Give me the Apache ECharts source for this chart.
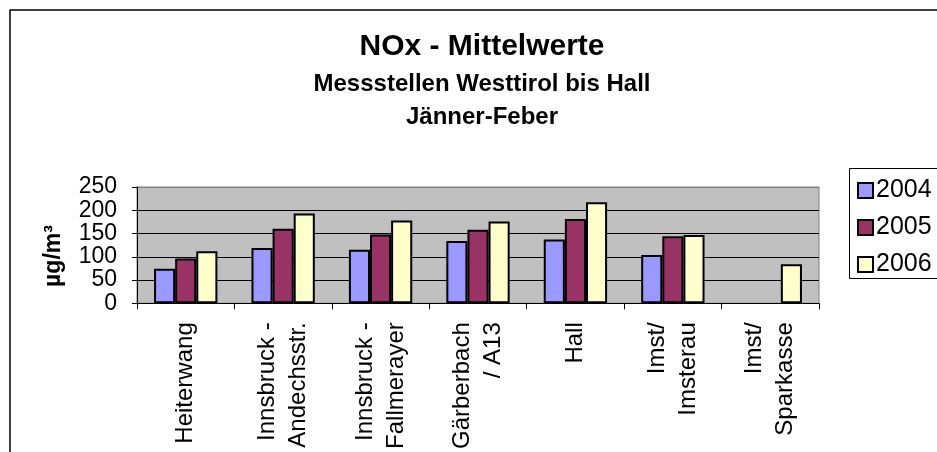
<!DOCTYPE html>
<html>
<head>
    <meta charset="UTF-8">
    <title>NOx - Mittelwerte</title>
    <script src="https://cdn.jsdelivr.net/npm/echarts@6/dist/echarts.min.js"></script>
    <style>
        html, body { margin: 0; padding: 0; background: #fff; }
        #main { width: 937px; height: 452px; }
    </style>
</head>
<body>
<div id="main"></div>
<script type="text/javascript">
    // Messstellen
    var stations = ['Heiterwang', 'Innsbruck -\nAndechsstr.', 'Innsbruck -\nFallmerayer', 'Gärberbach\n/ A13', 'Hall', 'Imst/\nImsterau', 'Imst/\nSparkasse'];
    var years = ['2004', '2005', '2006'];
    var nox2004 = [74, 119, 115, 134, 137, 104, null];
    var nox2005 = [96, 160, 148, 158, 181, 144, null];
    var nox2006 = [112, 193, 178, 176, 217, 147, 84];
    var yTicks = [0, 50, 100, 150, 200, 250];

    var colors = ['#9999FF', '#993366', '#FFFFCC'];
    var font = '"Liberation Sans", Arial, Helvetica, sans-serif';

    var myChart = echarts.init(document.getElementById('main'));

    function bar(name, data) {
        return {
            name: name,
            type: 'bar',
            data: data,
            barGap: '0%',
            barCategoryGap: '35%',
            itemStyle: { borderColor: '#000', borderWidth: 2 }
        };
    }

    var option = {
        animation: false,
        color: colors,
        textStyle: { fontFamily: font },
        title: [
            {
                text: 'NOx - Mittelwerte',
                left: 477, top: 27, textAlign: 'center',
                textStyle: { fontSize: 30, fontWeight: 'bold', color: '#000', fontFamily: font }
            },
            {
                text: 'Messstellen Westtirol bis Hall\nJänner-Feber',
                left: 477, top: 63, textAlign: 'center',
                textStyle: { fontSize: 24, fontWeight: 'bold', color: '#000', lineHeight: 33, fontFamily: font }
            }
        ],
        graphic: [
            // Rahmen um das Diagramm
            { type: 'rect', shape: { x: 10, y: 10, width: 1000, height: 1000 },
              style: { fill: 'none', stroke: '#000', lineWidth: 1.5 }, z: 0 },
            // Legendenrahmen
            { type: 'rect', shape: { x: 849.5, y: 168.5, width: 120, height: 110 },
              style: { fill: '#fff', stroke: '#000', lineWidth: 1 }, z: 1 },
            { type: 'text', x: 54, y: 256, rotation: Math.PI / 2,
              style: { text: 'µg/m³', fontSize: 23, fontWeight: 'bold', fontFamily: font,
                       fill: '#000', textAlign: 'center', textVerticalAlign: 'middle' } }
        ],
        legend: {
            orient: 'vertical',
            left: 852, top: 173,
            icon: 'rect',
            itemWidth: 15, itemHeight: 15,
            itemGap: 12,
            z: 5,
            textStyle: { fontSize: 25, color: '#000', fontFamily: font, padding: [0, 0, 0, -2] },
            data: years
        },
        grid: {
            left: 137, right: 118, top: 187, bottom: 145,
            show: true, backgroundColor: '#C0C0C0', borderColor: '#808080', borderWidth: 1
        },
        xAxis: {
            type: 'category',
            data: stations,
            axisLine: { lineStyle: { color: '#000', width: 1 } },
            axisTick: { show: true, length: 6, lineStyle: { color: '#000' } },
            axisLabel: {
                interval: 0, rotate: 90, margin: 19,
                fontSize: 24, lineHeight: 31, color: '#000', fontFamily: font
            }
        },
        yAxis: {
            type: 'value',
            min: yTicks[0], max: yTicks[yTicks.length - 1], interval: 50,
            axisLine: { show: true, lineStyle: { color: '#000', width: 1 } },
            axisTick: { show: true, length: 5, lineStyle: { color: '#000' } },
            axisLabel: { fontSize: 23, color: '#000', margin: 20, fontFamily: font },
            splitLine: { lineStyle: { color: ['#000', '#000', '#000', '#000', '#000', '#808080'], width: 1 } }
        },
        series: [
            bar(years[0], nox2004),
            bar(years[1], nox2005),
            bar(years[2], nox2006)
        ]
    };

    myChart.setOption(option);
</script>
</body>
</html>
